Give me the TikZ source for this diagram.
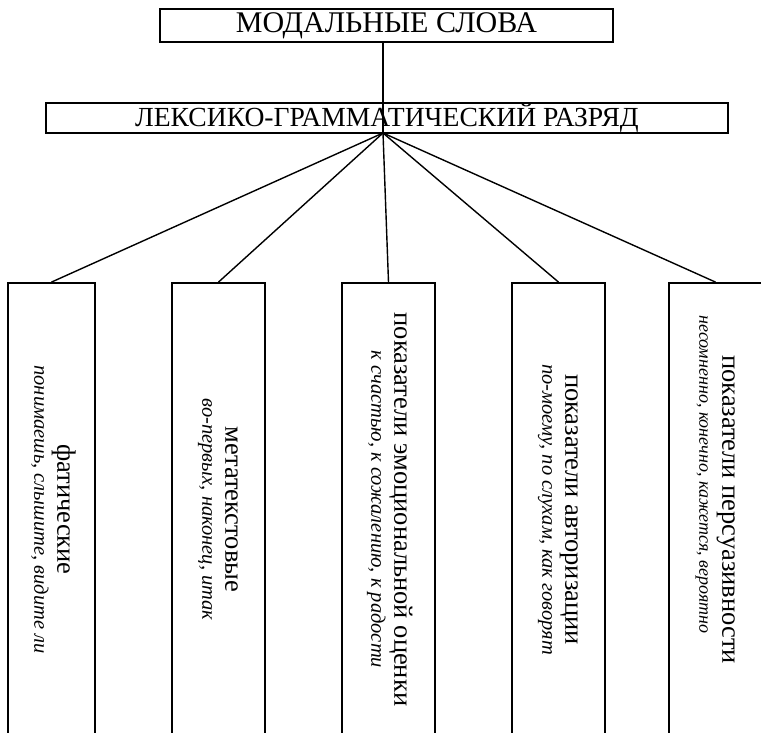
\documentclass[tikz,border=0pt]{standalone}
\usepackage{fontspec}
\setmainfont{Liberation Serif}
\usepackage{tikz}
\tikzstyle{head} = [rectangle, draw=black, line width=1.8pt, inner sep=0pt, text centered]
\tikzstyle{kind} = [rectangle, draw=black, line width=1.8pt, minimum width=93pt, minimum height=453pt, inner sep=0pt]
\tikzstyle{link} = [line width=1.4pt]
\newcommand{\kindtext}[3][20.5]{\rotatebox{-90}{\fontsize{20}{23}\selectfont\begin{tabular}{@{}c@{}}\fontsize{26.5}{23}\selectfont #2\\\fontsize{#1}{23}\selectfont\itshape #3\end{tabular}}}

\begin{document}
\begin{tikzpicture}[x=1pt, y=-1pt]
        \clip (0,0) rectangle (761,733);
        \node (modal) [head, minimum width=453pt, minimum height=33pt, font=\fontsize{30}{32}\selectfont] at (386.5,25.5) {МОДАЛЬНЫЕ СЛОВА};
        \node (razryad) [head, minimum width=682pt, minimum height=30pt, font=\fontsize{27.6}{30}\selectfont] at (387,118) {ЛЕКСИКО-ГРАММАТИЧЕСКИЙ РАЗРЯД};
        \coordinate (hub) at (383,133);
        \node (phatic) [kind, minimum width=87pt] at (51.5,509.5) {\kindtext{фатические}{понимаешь, слышите, видите ли}};
        \node (metatext) [kind] at (218.5,509.5) {\kindtext{метатекстовые}{во-первых, наконец, итак}};
        \node (emotion) [kind] at (388.5,509.5) {\kindtext{показатели эмоциональной оценки}{к счастью, к сожалению, к радости}};
        \node (author) [kind] at (558.5,509.5) {\kindtext{показатели авторизации}{по-моему, по слухам, как говорят}};
        \node (persuade) [kind] at (715.5,509.5) {\kindtext[18]{показатели персуазивности}{\hspace*{-35pt}несомненно, конечно, кажется, вероятно\hspace*{35pt}}};
        \draw [link] (modal.south -| hub) -- (hub);
        \foreach \k in {phatic, metatext, emotion, author, persuade}
            \draw [link] (hub) -- (\k.north);
    \end{tikzpicture}
\end{document}
